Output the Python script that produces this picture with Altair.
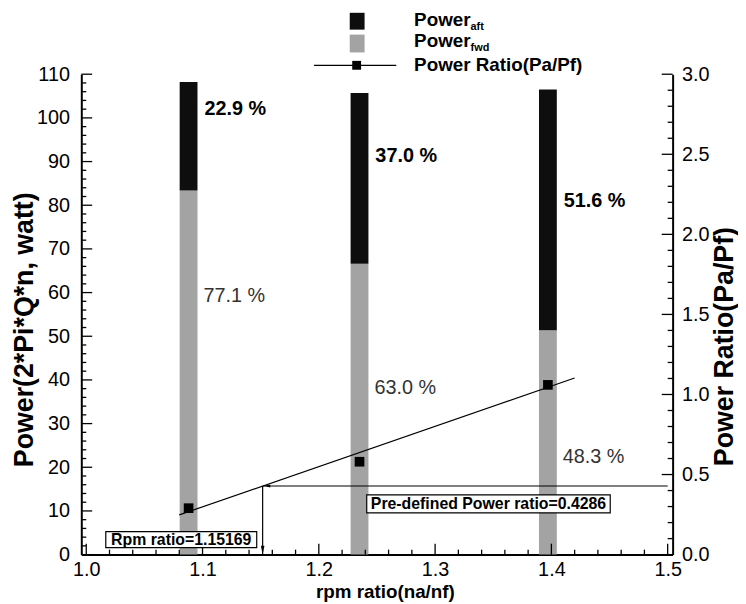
import altair as alt
import pandas as pd

# ---------------- data ----------------
rpm_ratio = [1.088, 1.235, 1.397]
power_fwd = [83.4, 66.6, 51.4]
power_aft = [24.8, 39.1, 55.1]
aft_pct = ["22.9 %", "37.0 %", "51.6 %"]
fwd_pct = ["77.1 %", "63.0 %", "48.3 %"]
aft_label_at = [102.0, 91.3, 81.0]
fwd_label_at = [59.3, 38.1, 22.4]
power_ratio = [0.29, 0.58, 1.06]
fit_rpm = [1.08, 1.42]
fit_ratio = [0.248, 1.103]
target_rpm = 1.15169
target_ratio = 0.4286

x_major = [1.0, 1.1, 1.2, 1.3, 1.4, 1.5]
x_minor = [round(1.0 + 0.02 * i, 2) for i in range(26) if i % 5 != 0]
yl_major = list(range(0, 111, 10))
yl_minor = [v for v in range(0, 111, 2) if v % 10 != 0]
yr_major = [0.0, 0.5, 1.0, 1.5, 2.0, 2.5, 3.0]
yr_minor = [round(0.1 * i, 1) for i in range(31) if i % 5 != 0]

W, H = 597, 485
FONT = "Liberation Sans"
TICK_FS = 20
YTITLE_FS = 27

xs = alt.Scale(domain=[1.0, 1.5], nice=False, zero=False)
yls = alt.Scale(domain=[0, 110], nice=False, zero=False)
yrs = alt.Scale(domain=[0, 3.0], nice=False, zero=False)

# ---------------- bars ----------------
rows = []
for r, f, a in zip(rpm_ratio, power_fwd, power_aft):
    rows.append({"rpm": r, "lo": 0.0, "hi": f, "part": "fwd"})
    rows.append({"rpm": r, "lo": f, "hi": f + a, "part": "aft"})
bars_df = pd.DataFrame(rows)

x_axis = alt.Axis(values=x_major, format=".1f", title="rpm ratio(na/nf)",
                  labelFontSize=TICK_FS, labelFont=FONT, labelColor="#000", labelPadding=5,
                  titleFontSize=19, titleFont=FONT, titleFontWeight="bold", titleColor="#000",
                  titleX=W / 2 + 8, titleY=37, titleBaseline="middle", titleAlign="center",
                  ticks=False, grid=False, domainColor="#000", domainWidth=2)
yl_axis = alt.Axis(values=yl_major, title="Power(2*Pi*Q*n, watt)",
                   labelFontSize=TICK_FS, labelFont=FONT, labelColor="#000", labelPadding=12,
                   titleFontSize=YTITLE_FS, titleFont=FONT, titleFontWeight="bold", titleColor="#000",
                   titleAngle=270, titleX=-57, titleY=H / 2 + 15, titleBaseline="middle", titleAlign="center",
                   ticks=False, grid=False, domainColor="#000", domainWidth=2)
yr_axis = alt.Axis(values=yr_major, format=".1f", orient="right", title="Power Ratio(Pa/Pf)",
                   labelFontSize=TICK_FS, labelFont=FONT, labelColor="#000", labelPadding=9,
                   titleFontSize=YTITLE_FS, titleFont=FONT, titleFontWeight="bold", titleColor="#000",
                   titleAngle=270, titleX=52, titleY=H / 2 + 32, titleBaseline="middle", titleAlign="center",
                   ticks=False, grid=False, domainColor="#000", domainWidth=2)


def X(field):
    # shared x scale; the axis itself is defined once on the bars layer
    return alt.X(field, scale=xs)


bars = alt.Chart(bars_df).mark_bar(size=18).encode(
    x=alt.X("rpm:Q", scale=xs, axis=x_axis),
    y=alt.Y("hi:Q", scale=yls, axis=yl_axis),
    y2="lo:Q",
    color=alt.Color("part:N", scale=alt.Scale(domain=["fwd", "aft"], range=["#a3a3a3", "#0e0e0e"]), legend=None),
)

lab_df = pd.DataFrame({"rpm": rpm_ratio, "aft_t": aft_pct, "fwd_t": fwd_pct,
                       "aft_y": aft_label_at, "fwd_y": fwd_label_at})
aft_text = alt.Chart(lab_df).mark_text(align="left", baseline="middle", dx=16, font=FONT,
                                       fontSize=20, fontWeight="bold", color="#000").encode(
    x=X("rpm:Q"), y=alt.Y("aft_y:Q", scale=yls, axis=None), text="aft_t:N")
fwd_text = alt.Chart(lab_df).mark_text(align="left", baseline="middle", dx=15, font=FONT,
                                       fontSize=20, color="#333").encode(
    x=X("rpm:Q"), y=alt.Y("fwd_y:Q", scale=yls, axis=None), text="fwd_t:N")


# inward ticks
def xticks(vals, ln):
    return alt.Chart(pd.DataFrame({"v": vals})).mark_rule(color="#000", strokeWidth=1.3).encode(
        x=X("v:Q"), y=alt.value(H), y2=alt.value(H - ln))


def ylticks(vals, ln):
    return alt.Chart(pd.DataFrame({"v": vals})).mark_rule(color="#000", strokeWidth=1.3).encode(
        y=alt.Y("v:Q", scale=yls, axis=None), x=alt.value(0), x2=alt.value(ln))


def yrticks(vals, ln):
    return alt.Chart(pd.DataFrame({"v": vals})).mark_rule(color="#000", strokeWidth=1.3).encode(
        y=alt.Y("v:Q", scale=yrs, axis=None), x=alt.value(W), x2=alt.value(W - ln))


# ---------------- right-axis layers ----------------
pts_df = pd.DataFrame({"rpm": rpm_ratio, "ratio": power_ratio})
pts = alt.Chart(pts_df).mark_square(size=95, color="#000", opacity=1).encode(
    x=X("rpm:Q"), y=alt.Y("ratio:Q", scale=yrs, axis=yr_axis))

fit_df = pd.DataFrame({"rpm": fit_rpm, "ratio": fit_ratio})
fit = alt.Chart(fit_df).mark_line(color="#000", strokeWidth=1.2).encode(
    x=X("rpm:Q"), y=alt.Y("ratio:Q", scale=yrs, axis=None))

tgt_df = pd.DataFrame({"rpm": [target_rpm], "ratio": [target_ratio], "zero": [0.0], "xmax": [1.5]})
vline = alt.Chart(tgt_df).mark_rule(color="#000", strokeWidth=1.2).encode(
    x=X("rpm:Q"), y=alt.Y("ratio:Q", scale=yrs, axis=None), y2="zero:Q")
hline = alt.Chart(tgt_df).mark_rule(color="#000", strokeWidth=1.2).encode(
    x=X("rpm:Q"), x2="xmax:Q", y=alt.Y("ratio:Q", scale=yrs, axis=None))
arrow_down = alt.Chart(tgt_df).mark_point(shape="M-0.4,-2L0.4,-2L0,0Z", size=81, filled=True,
                                          color="#000", opacity=1).encode(
    x=X("rpm:Q"), y=alt.Y("zero:Q", scale=yrs, axis=None))
arrow_left = alt.Chart(tgt_df).mark_point(shape="M0.4,0L1.7,-0.35L1.7,0.35Z", size=81, filled=True,
                                          color="#000", opacity=1).encode(
    x=X("rpm:Q"), y=alt.Y("ratio:Q", scale=yrs, axis=None))

# annotation boxes (placed in data units)
box_df = pd.DataFrame({
    "label": [f"Rpm ratio={target_rpm}", f"Pre-defined Power ratio={target_ratio}"],
    "x0": [1.0168, 1.2412], "x1": [1.1466, 1.4506],
    "y0": [0.044, 0.261], "y1": [0.143, 0.373],
})
box_df["xc"] = (box_df.x0 + box_df.x1) / 2
box_df["yc"] = (box_df.y0 + box_df.y1) / 2
boxes = alt.Chart(box_df).mark_rect(fill="#fff", stroke="#000", strokeWidth=1.2).encode(
    x=X("x0:Q"), x2="x1:Q",
    y=alt.Y("y0:Q", scale=yrs, axis=None), y2="y1:Q")
box_text = alt.Chart(box_df).mark_text(font=FONT, fontSize=16, fontWeight="bold", color="#000",
                                       baseline="middle").encode(
    x=X("xc:Q"), y=alt.Y("yc:Q", scale=yrs, axis=None), text="label:N")

# ---------------- legend (drawn above plot) ----------------
one = pd.DataFrame({"a": [0]})
LX = 336
LEG_FS = 19
SUB_DX = 57
leg = [
    alt.Chart(one).mark_rect(color="#0e0e0e").encode(x=alt.value(271), x2=alt.value(286), y=alt.value(-62), y2=alt.value(-45)),
    alt.Chart(one).mark_rect(color="#a3a3a3").encode(x=alt.value(271), x2=alt.value(286), y=alt.value(-40), y2=alt.value(-22)),
    alt.Chart(one).mark_rule(color="#000", strokeWidth=1.2).encode(x=alt.value(235), x2=alt.value(318), y=alt.value(-9)),
    alt.Chart(one).mark_square(size=80, color="#000", opacity=1).encode(x=alt.value(278), y=alt.value(-9)),
    alt.Chart(one).mark_text(text="Power", align="left", baseline="middle", font=FONT, fontSize=LEG_FS,
                             fontWeight="bold", color="#000").encode(x=alt.value(LX), y=alt.value(-55)),
    alt.Chart(one).mark_text(text="aft", align="left", baseline="middle", font=FONT, fontSize=11,
                             fontWeight="bold", color="#000").encode(x=alt.value(LX + SUB_DX), y=alt.value(-48)),
    alt.Chart(one).mark_text(text="Power", align="left", baseline="middle", font=FONT, fontSize=LEG_FS,
                             fontWeight="bold", color="#000").encode(x=alt.value(LX), y=alt.value(-33)),
    alt.Chart(one).mark_text(text="fwd", align="left", baseline="middle", font=FONT, fontSize=11,
                             fontWeight="bold", color="#000").encode(x=alt.value(LX + SUB_DX), y=alt.value(-26)),
    alt.Chart(one).mark_text(text="Power Ratio(Pa/Pf)", align="left", baseline="middle", font=FONT,
                             fontSize=LEG_FS, fontWeight="bold", color="#000").encode(x=alt.value(LX), y=alt.value(-9)),
]

chart = alt.layer(
    bars, aft_text, fwd_text,
    xticks(x_major, 11), xticks(x_minor, 5),
    ylticks(yl_major, 11), ylticks(yl_minor, 5),
    pts, fit, vline, hline, arrow_down, arrow_left, boxes, box_text,
    yrticks(yr_major, 11), yrticks(yr_minor, 5), *leg,
).resolve_scale(y="independent").properties(
    width=W, height=H,
    padding={"left": 74, "top": 64, "right": 66, "bottom": 46},
    autosize=alt.AutoSizeParams(type="none"),
    background="#fff",
).configure_view(stroke=None)

chart.save("out.html", embed_options={"renderer": "svg", "actions": False})
